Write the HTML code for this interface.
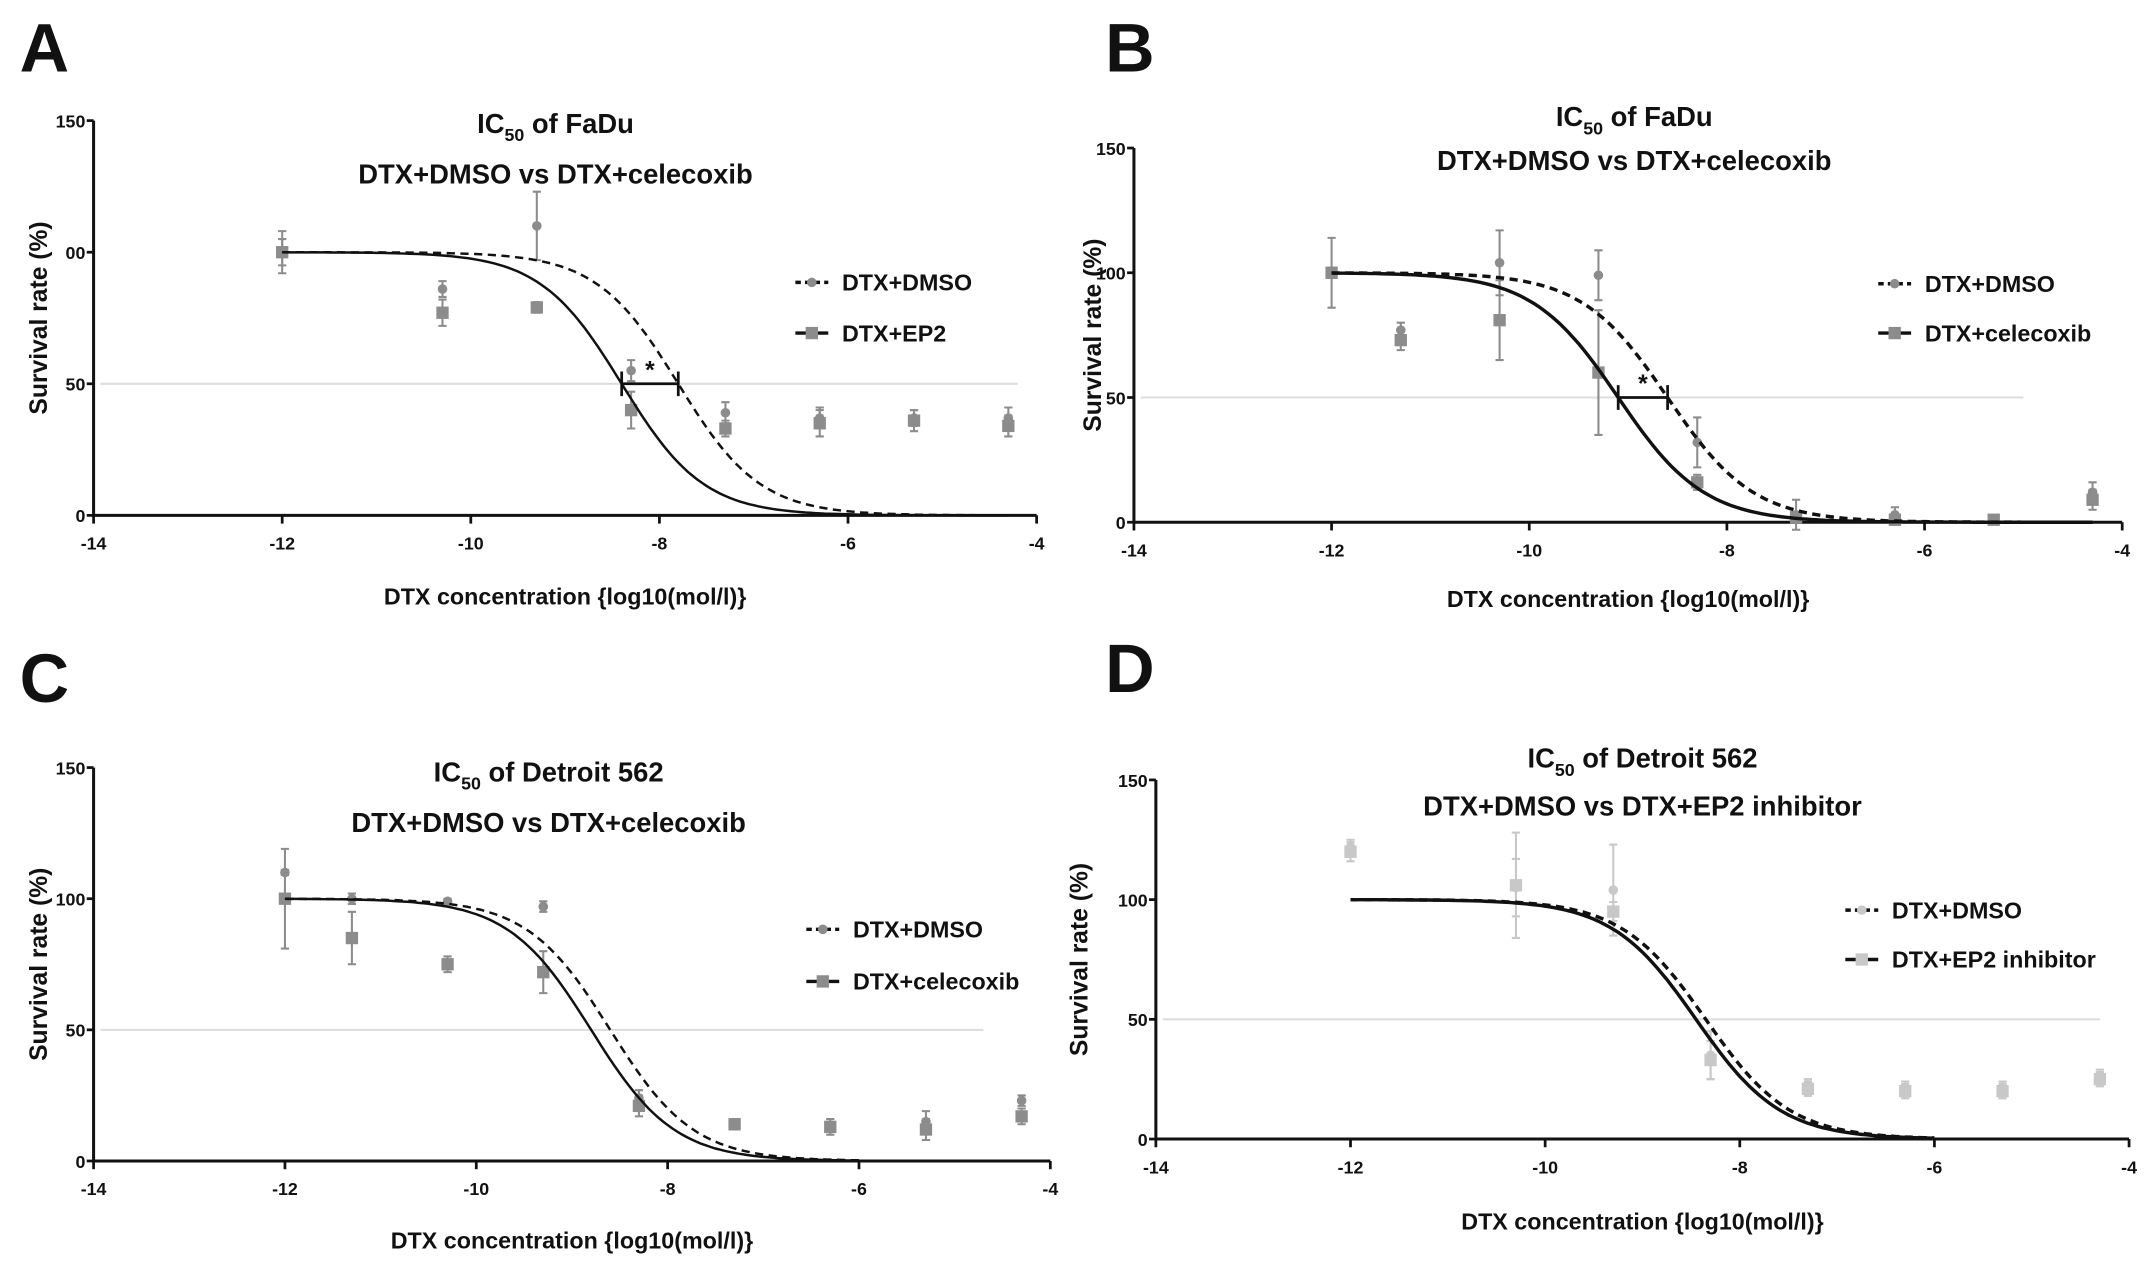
<!DOCTYPE html>
<html><head><meta charset="utf-8"><style>
html,body{margin:0;padding:0;background:#fff}
svg{display:block}
text{font-family:"Liberation Sans",sans-serif;font-weight:bold;fill:#111}
</style></head><body>
<svg id="fig" width="2150" height="1272" viewBox="0 0 1568 928" xmlns="http://www.w3.org/2000/svg"></svg>
<script>
const xTicks=[-14,-12,-10,-8,-6,-4];
const yTicksA=["150","00","50","0"];
const yTicksStd=["150","100","50","0"];
const dosesA=[-12,-10.3,-9.3,-8.3,-7.3,-6.3,-5.3,-4.3];
const dosesB=[-12,-11.3,-10.3,-9.3,-8.3,-7.3,-6.3,-5.3,-4.3];
const dosesD=[-12,-10.3,-9.3,-8.3,-7.3,-6.3,-5.3,-4.3];
const aDmso=[100,86,110,55,39,37,37,37];
const aDmsoErr=[8,3,13,4,4,4,3,4];
const aEp2=[100,77,79,40,33,35,36,34];
const aEp2Err=[5,5,2,7,3,5,4,4];
const bDmso=[100,77,104,99,32,3,3,1,12];
const bDmsoErr=[14,3,13,10,10,6,3,1,4];
const bCel=[100,73,81,60,16,2,1,1,9];
const bCelErr=[2,4,16,25,3,2,2,1,4];
const cDmso=[110,100,99,97,24,14,13,15,23];
const cDmsoErr=[1,2,1,2,3,2,2,4,2];
const cCel=[100,85,75,72,21,14,13,12,17];
const cCelErr=[19,10,3,8,4,2,3,4,3];
const dDmso=[122,105,104,35,22,21,21,26];
const dDmsoErr=[3,12,19,10,3,3,3,3];
const dEp2=[120,106,95,33,21,20,20,25];
const dEp2Err=[4,22,4,8,3,3,3,3];
const ic50A=[-7.8,-8.4], ic50B=[-8.6,-9.1], ic50C=[-8.6,-8.8], ic50D=[-8.35,-8.45];

const svg=document.getElementById('fig');
const NS='http://www.w3.org/2000/svg';
function mk(tag,attrs,parent){const e=document.createElementNS(NS,tag);for(const k in attrs)e.setAttribute(k,attrs[k]);(parent||svg).appendChild(e);return e;}

function panel(cfg){
  const g=mk('g',{});
  
  
  const X=v=>cfg.x0+(v+14)/10*(cfg.x1-cfg.x0);
  const Y=v=>cfg.y0-(v/150)*(cfg.y0-cfg.y150);
  let t=mk('text',{x:cfg.lx,y:cfg.ly,'font-size':50},g);t.textContent=cfg.letter;
  
  // title
  const tt=mk('text',{x:cfg.tc,y:cfg.t1,'font-size':20,'text-anchor':'middle'},g);
  
  tt.innerHTML='IC<tspan font-size="13" dy="6">50</tspan><tspan dy="-6"> of '+cfg.cell+'</tspan>';
  t=mk('text',{x:cfg.tc,y:cfg.t2,'font-size':20,'text-anchor':'middle'},g);t.textContent=cfg.sub;
  
  // 50% line
  const hl=mk('line',{x1:cfg.x0+5,x2:X(cfg.hlEnd),y1:Y(50),y2:Y(50),stroke:'#ddd','stroke-width':1.5},g);
  
  // axes
  const ax=mk('path',{d:`M${cfg.x0},${Y(150)}V${Y(0)}H${cfg.x1}`,stroke:'#111','stroke-width':2.2,fill:'none'},g);
  
  xTicks.forEach(v=>{mk('line',{x1:X(v),x2:X(v),y1:Y(0),y2:Y(0)+6,stroke:'#111','stroke-width':2},g);
    const l=mk('text',{x:X(v),y:Y(0)+25,'font-size':13,'text-anchor':'middle'},g);l.textContent=v;
    });
  [150,100,50,0].forEach((v,i)=>{mk('line',{x1:cfg.x0-5,x2:cfg.x0,y1:Y(v),y2:Y(v),stroke:'#111','stroke-width':2},g);
    const l=mk('text',{x:cfg.x0-6,y:Y(v)+5,'font-size':13,'text-anchor':'end'},g);l.textContent=cfg.yt[i];
    });
  t=mk('text',{x:(cfg.x0+cfg.x1)/2,y:cfg.xl,'font-size':17,'text-anchor':'middle'},g);t.textContent='DTX concentration {log10(mol/l)}';
  
  const yc=(Y(0)+Y(150))/2;
  t=mk('text',{x:cfg.yl,y:yc,'font-size':18,'text-anchor':'middle',transform:`rotate(-90 ${cfg.yl} ${yc})`},g);t.textContent='Survival rate (%)';
  
  // points
  function pts(vals,errs,shape,col,name){
    cfg.doses.forEach((d,i)=>{
      const cx=X(d),cy=Y(vals[i]),e=errs[i]/150*(cfg.y0-cfg.y150);
      const p=mk('path',{d:`M${cx},${cy-e}V${cy+e}M${cx-3},${cy-e}H${cx+3}M${cx-3},${cy+e}H${cx+3}`,stroke:col,'stroke-width':1.5},g);
      
      let m;
      if(shape==='sq') m=mk('rect',{x:cx-4.5,y:cy-4.5,width:9,height:9,fill:col},g);
      else m=mk('circle',{cx:cx,cy:cy,r:3.5,fill:col},g);
      
    });
  }
  pts(cfg.dm,cfg.dmE,'c',cfg.col,'dmso');
  pts(cfg.tr,cfg.trE,'sq',cfg.col,'treatment');
  // curves
  function curve(ic,dash,name){
    let d='';for(let v=-12;v<=cfg.cEnd+1e-9;v+=0.05){const y=100/(1+Math.pow(10,(v-ic)*cfg.hill));d+=(d?'L':'M')+X(v).toFixed(1)+','+Y(y).toFixed(1);}
    const c=mk('path',{d:d,stroke:'#111','stroke-width':cfg.sw,fill:'none','stroke-dasharray':dash?'6,4':'none'},g);
    
  }
  curve(cfg.ic[0],true,'dmso-curve');curve(cfg.ic[1],false,'treatment-curve');
  if(cfg.star){
    const a=X(cfg.ic[1]),b=X(cfg.ic[0]),y=Y(50);
    const s=mk('path',{d:`M${a},${y}H${b}M${a},${y-9}V${y+9}M${b},${y-9}V${y+9}`,stroke:'#111','stroke-width':2},g);
    
    t=mk('text',{x:(a+b)/2,y:y-4,'font-size':18,'text-anchor':'middle'},g);t.textContent='*';
    
  }
  // legend
  cfg.leg.forEach((lab,i)=>{
    const ly=cfg.legY[i];
    const l=mk('line',{x1:cfg.legX,x2:cfg.legX+24,y1:ly,y2:ly,stroke:'#111','stroke-width':2.5,'stroke-dasharray':i===0?'4,3':'none'},g);
    
    if(i===0) mk('circle',{cx:cfg.legX+12,cy:ly,r:3.5,fill:cfg.col},g);
    else mk('rect',{x:cfg.legX+7.5,y:ly-4.5,width:9,height:9,fill:cfg.col},g);
    const tx=mk('text',{x:cfg.legX+34,y:ly+6,'font-size':17,'font-weight':'normal'},g);tx.textContent=lab;
    
  });
}
panel({letter:'A',lx:14,ly:52,x0:68,x1:756,y0:376,y150:88,tc:405,t1:97,t2:134,cell:'FaDu',sub:'DTX+DMSO vs DTX+celecoxib',
  xl:441,yl:34,yt:yTicksA,doses:dosesA,dm:aDmso,dmE:aDmsoErr,tr:aEp2,trE:aEp2Err,col:'#8c8c8c',ic:ic50A,hill:1.0,cEnd:-4.3,hlEnd:-4.2,sw:1.8,star:true,
  leg:['DTX+DMSO','DTX+EP2'],legX:580,legY:206,legY:[206,243]});
panel({letter:'B',lx:806,ly:52,x0:827,x1:1548,y0:381,y150:108,tc:1192,t1:92,t2:124,cell:'FaDu',sub:'DTX+DMSO vs DTX+celecoxib',
  xl:443,yl:803,yt:yTicksStd,doses:dosesB,dm:bDmso,dmE:bDmsoErr,tr:bCel,trE:bCelErr,col:'#8c8c8c',ic:ic50B,hill:1.0,cEnd:-4.3,hlEnd:-5.0,sw:2.5,star:true,
  leg:['DTX+DMSO','DTX+celecoxib'],legX:1370,legY:[207,243]});
panel({letter:'C',lx:14,ly:512,x0:68,x1:766,y0:847,y150:560,tc:400,t1:570,t2:607,cell:'Detroit 562',sub:'DTX+DMSO vs DTX+celecoxib',
  xl:911,yl:34,yt:yTicksStd,doses:dosesB,dm:cDmso,dmE:cDmsoErr,tr:cCel,trE:cCelErr,col:'#8c8c8c',ic:ic50C,hill:1.0,cEnd:-6,hlEnd:-4.7,sw:1.8,star:false,
  leg:['DTX+DMSO','DTX+celecoxib'],legX:588,legY:[678,716]});
panel({letter:'D',lx:806,ly:505,x0:843,x1:1553,y0:831,y150:569,tc:1198,t1:560,t2:595,cell:'Detroit 562',sub:'DTX+DMSO vs DTX+EP2 inhibitor',
  xl:897,yl:793,yt:yTicksStd,doses:dosesD,dm:dDmso,dmE:dDmsoErr,tr:dEp2,trE:dEp2Err,col:'#c8c8c8',ic:ic50D,hill:1.0,cEnd:-6,hlEnd:-4.3,sw:2.5,star:false,
  leg:['DTX+DMSO','DTX+EP2 inhibitor'],legX:1346,legY:[664,700]});
</script>
</body></html>
